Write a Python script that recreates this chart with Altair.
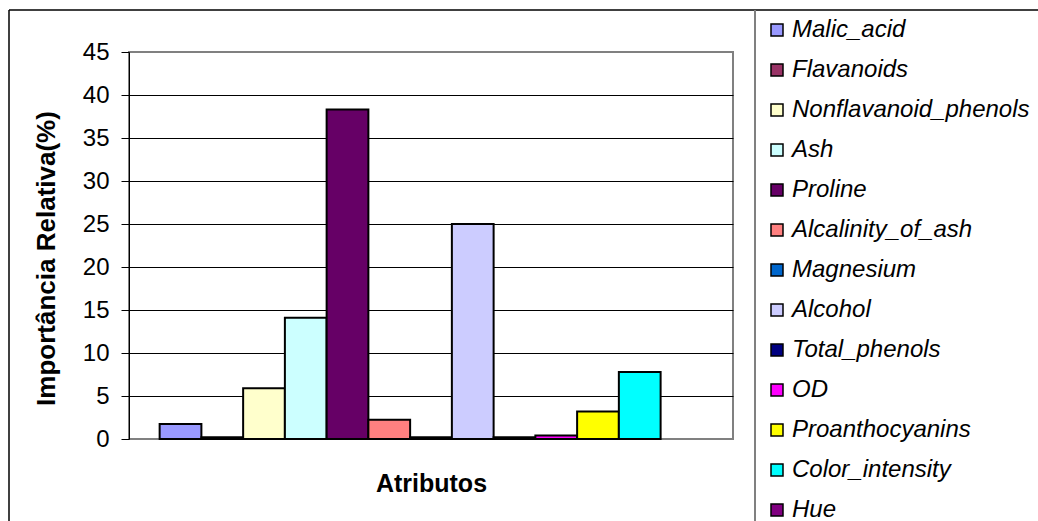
import altair as alt
import pandas as pd

# Relative importance (%) of each wine attribute
attributes = [
    "Malic_acid", "Flavanoids", "Nonflavanoid_phenols", "Ash", "Proline",
    "Alcalinity_of_ash", "Magnesium", "Alcohol", "Total_phenols", "OD",
    "Proanthocyanins", "Color_intensity", "Hue",
]
importance = [1.75, 0.2, 5.9, 14.1, 38.3, 2.25, 0.2, 25.0, 0.2, 0.4, 3.2, 7.8, 0.0]
colors = [
    "#9999FF", "#993366", "#FFFFCC", "#CCFFFF", "#660066", "#FF8080",
    "#0066CC", "#CCCCFF", "#000080", "#FF00FF", "#FFFF00", "#00FFFF", "#800080",
]
y_ticks = list(range(0, 46, 5))

df = pd.DataFrame({"attr": attributes, "value": importance})

FONT = "Liberation Sans"
W, H = 604, 387
LEFT, TOP = 129, 52

bars = alt.Chart(df).transform_filter("datum.value > 0").mark_bar(
    stroke="black", strokeWidth=2
).encode(
    x=alt.X(
        "attr:N",
        sort=attributes,
        scale=alt.Scale(domain=attributes, paddingInner=0, paddingOuter=0.734),
        axis=alt.Axis(
            title="Atributos", labels=False, ticks=False, domain=False,
            titleFont=FONT, titleFontSize=25, titleFontWeight="bold",
            titleColor="black", titlePadding=32,
        ),
    ),
    y=alt.Y(
        "value:Q",
        scale=alt.Scale(domain=[0, 45], nice=False),
        axis=alt.Axis(
            title="Importância Relativa(%)", values=y_ticks,
            labelFont=FONT, labelFontSize=24, labelColor="black", labelPadding=12,
            tickColor="black", tickSize=8, tickWidth=1,
            domainColor="black", domainWidth=1,
            gridColor=alt.condition(
                "datum.value == 0 || datum.value == 45",
                alt.value("#808080"), alt.value("black"),
            ),
            gridWidth=1,
            titleFont=FONT, titleFontSize=26, titleFontWeight="bold",
            titleColor="black", titleX=-83, titleY=206,
            titleAngle=270, titleAlign="center", titleBaseline="middle",
        ),
    ),
    color=alt.Color(
        "attr:N",
        sort=attributes,
        scale=alt.Scale(domain=attributes, range=colors),
        legend=alt.Legend(
            title=None, orient="none", legendX=636, legendY=-34,
            symbolType="square", symbolSize=144, symbolStrokeColor="black",
            symbolStrokeWidth=1.5, symbolOpacity=1,
            labelFont=FONT, labelFontSize=24, labelFontStyle="italic",
            labelColor="black", labelOffset=3, rowPadding=16, padding=0,
            labelLimit=400,
        ),
    ),
)

frame_src = alt.Data(values=[{}])
top_line = alt.Chart(frame_src).mark_rule(color="black", strokeWidth=1.5).encode(
    x=alt.value(-LEFT + 9), x2=alt.value(1038 - LEFT), y=alt.value(10 - TOP)
)
left_line = alt.Chart(frame_src).mark_rule(color="black", strokeWidth=1.5).encode(
    x=alt.value(-LEFT + 9), y=alt.value(10 - TOP), y2=alt.value(521 - TOP)
)
legend_line = alt.Chart(frame_src).mark_rule(color="#808080", strokeWidth=2).encode(
    x=alt.value(755 - LEFT), y=alt.value(10 - TOP), y2=alt.value(521 - TOP)
)

chart = alt.layer(bars, top_line, left_line, legend_line).properties(
    width=W, height=H,
    autosize=alt.AutoSizeParams(type="none"),
    padding={"left": LEFT, "top": TOP, "right": 1038 - LEFT - W, "bottom": 521 - TOP - H},
    background="white",
).configure_view(stroke="#808080", strokeWidth=2)

chart.save("out.html", embed_options={"renderer": "svg", "actions": False})
